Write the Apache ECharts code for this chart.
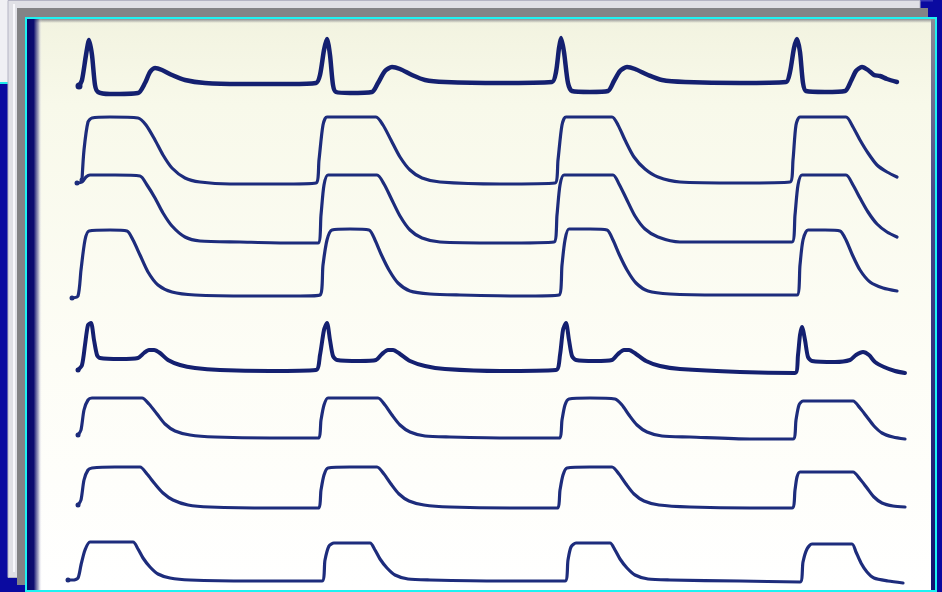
<!DOCTYPE html>
<html>
<head>
<meta charset="utf-8">
<script src="https://cdn.jsdelivr.net/npm/echarts@6/dist/echarts.min.js"></script>
<style>html,body{margin:0;padding:0;background:#0a0aa0;}#c{width:942px;height:592px;}</style>
</head>
<body>
<div id="c"></div>
<script>
const trace1 = [[79,86],[82,80],[86,55],[89,40],[92,55],[95,85],[98,92],[110,94],[138,93],[145,83],[150,72],[155,68],[162,70],[172,75],[185,80],[205,83],[240,84],[290,84],[316,83],[320,75],[324,50],[327,39],[330,55],[333,85],[336,92],[350,93],[372,92],[378,83],[385,71],[392,67],[400,69],[412,75],[425,80],[445,82],[500,83],[552,82],[556,72],[559,48],[561,38],[564,52],[568,83],[572,91],[590,92],[608,91],[614,81],[620,71],[627,67],[635,69],[648,75],[662,80],[685,82],[740,83],[786,82],[790,72],[794,48],[797,39],[800,52],[803,83],[806,91],[825,92],[845,91],[851,81],[856,71],[862,67],[868,70],[874,75],[880,76],[887,79],[897,82]];
const trace2 = [[82,180],[84,150],[88,122],[92,118],[110,117],[138,118],[146,125],[155,140],[163,155],[172,168],[185,178],[200,182],[230,184],[280,184],[316,183],[319,160],[323,125],[327,117],[350,117],[376,117],[383,125],[391,140],[400,157],[410,170],[422,178],[440,182],[500,184],[555,183],[558,160],[562,125],[566,117],[590,117],[612,117],[618,125],[625,140],[634,157],[645,169],[658,177],[680,182],[740,183],[790,182],[793,160],[796,125],[800,117],[825,117],[846,117],[853,127],[860,140],[868,153],[877,165],[887,172],[897,177]];
const trace3 = [[77,183],[82,182],[86,177],[90,175],[115,175],[140,176],[147,185],[155,198],[163,213],[172,226],[185,237],[200,241],[240,242],[290,243],[318,243],[321,215],[324,185],[328,175],[350,175],[377,175],[384,184],[391,198],[400,216],[410,230],[422,238],[440,242],[500,243],[554,242],[557,215],[560,185],[564,175],[590,175],[613,175],[619,184],[626,198],[635,216],[645,229],[658,237],[680,242],[740,242],[792,242],[795,215],[798,185],[802,175],[825,175],[846,175],[853,185],[860,198],[868,212],[877,224],[887,232],[897,237]];
const trace4 = [[72,298],[78,296],[81,270],[85,240],[89,231],[110,230],[127,231],[133,240],[140,255],[148,272],[158,285],[172,292],[195,295],[250,296],[300,296],[320,295],[323,265],[327,240],[332,230],[350,229],[369,230],[375,240],[381,254],[389,270],[398,283],[410,291],[430,294],[460,295],[520,296],[559,295],[562,265],[565,240],[569,229],[590,229],[607,230],[613,240],[619,254],[627,270],[636,283],[648,291],[670,294],[720,295],[797,295],[800,265],[803,240],[808,230],[825,230],[840,231],[846,240],[852,254],[860,270],[870,282],[883,288],[897,291]];
const trace5 = [[78,370],[82,365],[85,345],[88,325],[91,323],[94,340],[97,355],[100,358],[120,359],[138,358],[144,353],[149,350],[154,350],[160,353],[168,360],[180,365],[195,368],[220,370],[270,371],[316,370],[320,355],[324,330],[327,323],[330,340],[333,356],[337,360],[360,361],[376,360],[382,354],[388,350],[393,350],[400,354],[410,361],[425,366],[445,369],[500,371],[556,370],[560,355],[563,330],[566,323],[569,340],[572,356],[576,360],[595,361],[612,360],[618,354],[624,350],[629,350],[636,354],[646,361],[660,366],[680,369],[740,372],[795,373],[798,355],[800,335],[802,327],[805,340],[808,357],[812,361],[835,362],[850,360],[856,355],[863,352],[869,355],[875,362],[884,367],[895,371],[905,373]];
const trace6 = [[78,435],[81,430],[84,410],[88,400],[92,398],[115,398],[142,398],[149,404],[157,414],[165,424],[175,431],[190,435],[215,437],[270,438],[318,438],[321,420],[324,405],[328,398],[350,398],[378,398],[385,405],[392,415],[400,425],[410,432],[425,436],[450,437],[510,438],[559,438],[562,420],[565,405],[569,399],[590,398],[615,399],[622,405],[629,415],[637,425],[647,432],[662,436],[690,437],[750,439],[793,439],[796,420],[799,405],[803,401],[830,401],[853,401],[860,408],[867,417],[874,426],[882,433],[893,437],[905,439]];
const trace7 = [[78,505],[81,500],[84,480],[88,470],[92,468],[115,467],[140,467],[147,474],[155,484],[163,493],[173,500],[188,505],[210,507],[270,508],[318,508],[321,490],[324,475],[328,468],[350,467],[377,467],[384,474],[391,484],[399,494],[409,501],[424,505],[450,507],[510,508],[557,508],[560,490],[563,475],[567,468],[590,467],[612,467],[619,474],[626,484],[634,494],[644,501],[659,505],[690,507],[750,508],[792,508],[795,490],[797,477],[800,472],[830,472],[853,472],[860,479],[867,488],[874,497],[882,503],[893,506],[905,507]];
const trace8 = [[68,580],[73,580],[78,578],[81,565],[85,550],[90,542],[110,542],[133,542],[138,549],[143,558],[150,567],[158,574],[170,578],[190,580],[250,581],[322,581],[325,560],[329,546],[334,543],[350,543],[370,543],[375,550],[380,559],[387,568],[395,575],[408,579],[430,580],[500,581],[565,581],[568,560],[571,547],[576,543],[595,543],[610,543],[615,550],[620,559],[627,568],[635,575],[648,579],[670,580],[740,581],[800,582],[803,562],[807,549],[812,544],[835,544],[852,544],[856,552],[861,563],[867,572],[874,578],[888,581],[903,583]];

const traces = [trace1, trace2, trace3, trace4, trace5, trace6, trace7, trace8];
const traceNames = ['Trace 1','Trace 2','Trace 3','Trace 4','Trace 5','Trace 6','Trace 7','Trace 8'];

const chart = echarts.init(document.getElementById('c'), null, {renderer: 'canvas'});

const series = traces.map((d, i) => ({
  name: traceNames[i],
  type: 'line',
  data: d,
  smooth: 0.25,
  symbol: 'circle',
  symbolSize: (v, p) => (p.dataIndex === 0 ? (i === 0 ? 7 : 5) : 0),
  showSymbol: true,
  itemStyle: {color: i === 0 || i === 4 ? '#142070' : '#1d2c7c'},
  lineStyle: {color: i === 0 || i === 4 ? '#142070' : '#1d2c7c', width: i === 0 ? 4.5 : (i === 4 ? 4 : 3.2), cap: 'round', join: 'round'},
  silent: true,
  animation: false,
  z: 5
}));

const g = (shape, style, z) => ({type: 'rect', shape, style, z: z, silent: true});
const lin = (x, y, x2, y2, stops) => ({type: 'linear', x, y, x2, y2, colorStops: stops.map((c, k) => ({offset: c[0], color: c[1]}))});

chart.setOption({
  backgroundColor: '#0a0aa0',
  animation: false,
  grid: {left: 0, right: 0, top: 0, bottom: 0},
  xAxis: {type: 'value', min: 0, max: 942, show: false},
  yAxis: {type: 'value', min: 0, max: 592, inverse: true, show: false},
  graphic: {elements: [
    g({x: 0, y: 0, width: 9, height: 83}, {fill: '#f0f0f4'}, -20),
    g({x: 0, y: 82, width: 10, height: 2}, {fill: '#20e8e8'}, -20),
    g({x: 103, y: 0, width: 830, height: 1.5}, {fill: '#3a3ab8'}, -20),
    g({x: 8, y: 0.5, width: 912, height: 577}, {fill: '#e0e0e6', stroke: '#b4b4c4', lineWidth: 1}, -19),
    g({x: 13, y: 4, width: 2, height: 568}, {fill: '#f8f8fc'}, -19),
    g({x: 17, y: 8, width: 911, height: 577}, {fill: '#838386'}, -18),
    g({x: 25, y: 17, width: 912, height: 576}, {fill: '#1ef2f2'}, -17),
    g({x: 27, y: 19, width: 908, height: 571}, {fill: lin(0, 0, 0, 1, [[0, '#8c8c96'], [0.3, '#4a4a88'], [1, '#101070']])}, -16),
    g({x: 27, y: 19, width: 904, height: 571}, {fill: lin(0, 0, 0, 1, [[0, '#f2f3e0'], [0.15, '#f8f9ea'], [0.6, '#fdfdf6'], [1, '#ffffff']])}, -15),
    g({x: 27, y: 19, width: 904, height: 4}, {fill: lin(0, 0, 0, 1, [[0, 'rgba(60,60,80,0.55)'], [1, 'rgba(60,60,80,0)']])}, -14),
    g({x: 27, y: 19, width: 15, height: 571}, {fill: lin(0, 0, 1, 0, [[0, '#08086a'], [0.45, '#0c0c70'], [0.75, 'rgba(60,60,130,0.45)'], [1, 'rgba(255,255,255,0)']])}, -14)
  ]},
  series
});
</script>
</body>
</html>
